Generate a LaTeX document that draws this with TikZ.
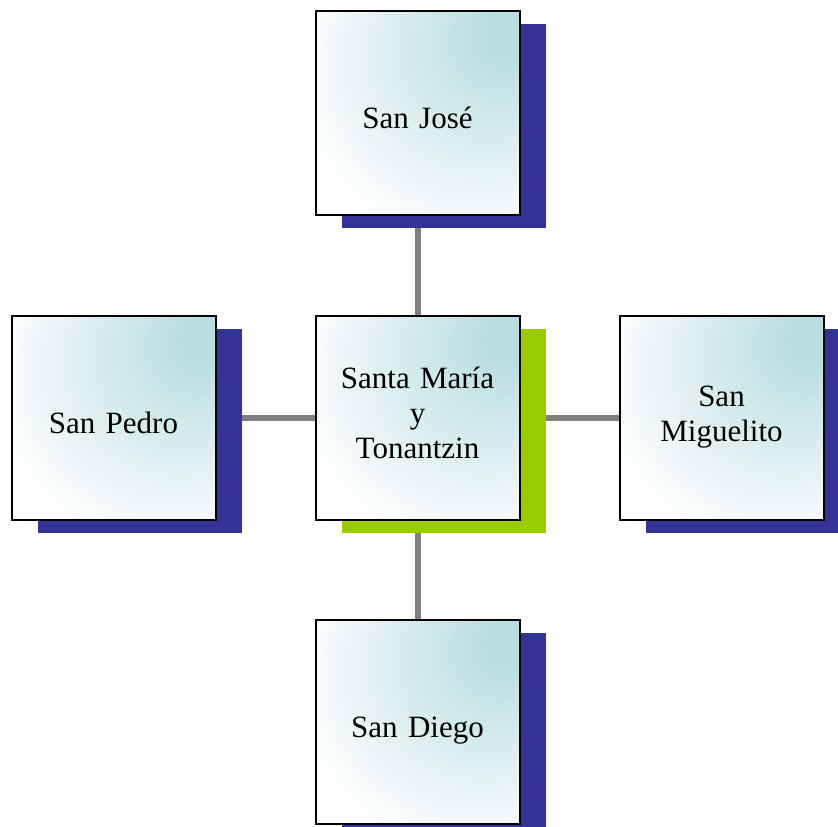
\documentclass[tikz,border=0pt]{standalone}
\usepackage{fontspec}
\setmainfont{Liberation Serif}
\usetikzlibrary{shadows,backgrounds}
\definecolor{boxteal}{RGB}{186,222,226}
\definecolor{shadowblue}{RGB}{51,51,153}
\definecolor{shadowgreen}{RGB}{153,204,0}
\definecolor{linkgray}{RGB}{128,128,128}
\pgfdeclareradialshading{tealglow}{\pgfpoint{24bp}{21bp}}{color(0bp)=(boxteal); color(6bp)=(boxteal); color(42bp)=(white); color(80bp)=(white)}
\begin{document}
\begin{tikzpicture}[x=1pt, y=-1pt]
        % Define styles
        \tikzset{
            struts/.style 2 args={execute at begin node={\rule{0pt}{#1}},
                execute at end node={\rule[-#2]{0pt}{0pt}}},
            place/.style={draw=black, line width=2pt, shading=tealglow,
                minimum width=204pt, minimum height=204pt, inner sep=0pt,
                align=center, text width=190pt,
                font=\fontsize{31}{35}\selectfont,
                drop shadow={shadow xshift=26pt, shadow yshift=-13pt,
                    fill=shadowblue, opacity=1}},
            hub/.style={place,
                drop shadow={shadow xshift=26pt, shadow yshift=-13pt,
                    fill=shadowgreen, opacity=1}},
            link/.style={draw=linkgray, line width=6pt}
        }
        \useasboundingbox (0,0) rectangle (838,827);
        % Center and the four places round it
        \node[hub, struts={30pt}{18pt}] (center) at (417.5,417.5) {Santa María\\y\\Tonantzin};
        \node[place, struts={40pt}{9pt}] (north) at (417.5,112.5) {San José};
        \node[place, struts={40pt}{9pt}] (west) at (113.5,417.5) {San Pedro};
        \node[place, struts={30pt}{18pt}] (east) at (721.5,417.5) {San\\Miguelito};
        \node[place, struts={40pt}{9pt}] (south) at (417.5,721.5) {San Diego};
        % Links behind the boxes
        \begin{scope}[on background layer]
            \foreach \p in {north, west, east, south}
                \draw[link] (center) -- (\p);
        \end{scope}
    \end{tikzpicture}
\end{document}
